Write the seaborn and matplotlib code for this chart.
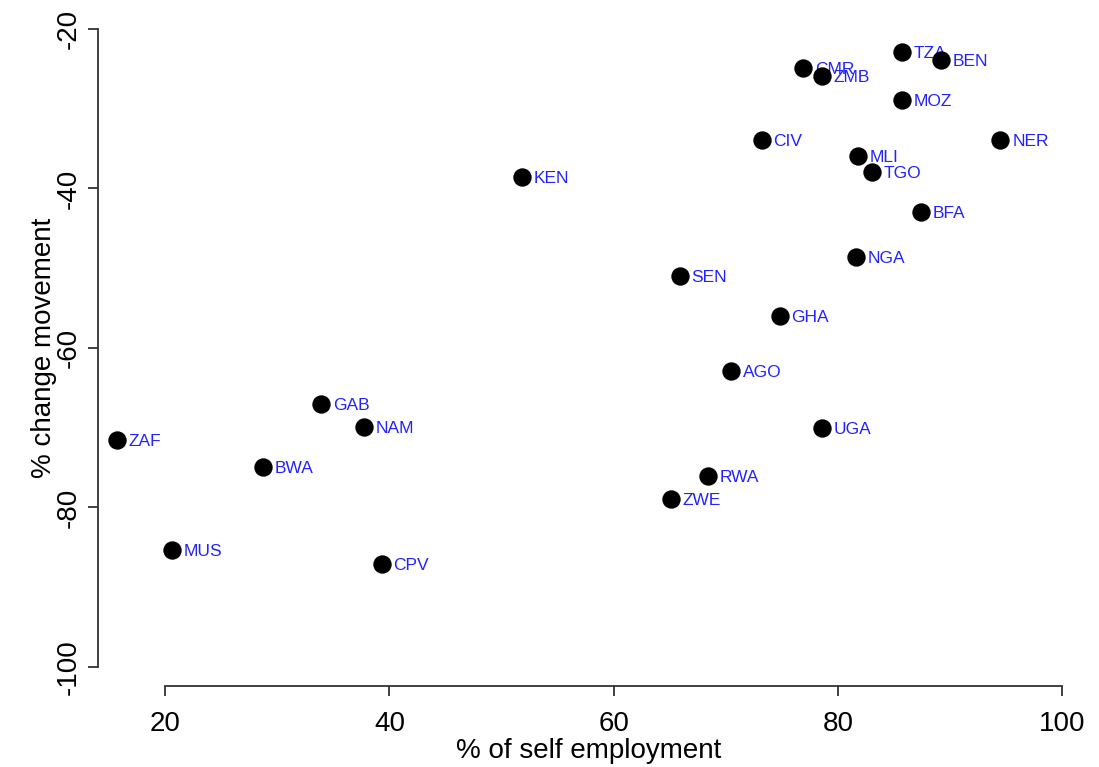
import matplotlib
matplotlib.use("Agg")
import matplotlib.pyplot as plt
import seaborn as sns
import pandas as pd

countries = ["ZAF", "MUS", "BWA", "GAB", "NAM", "CPV", "KEN", "SEN", "ZWE", "RWA",
             "AGO", "CIV", "GHA", "CMR", "ZMB", "UGA", "NGA", "MLI", "TGO", "TZA",
             "MOZ", "BFA", "BEN", "NER"]
self_employment = [15.7, 20.6, 28.7, 33.9, 37.7, 39.3, 51.8, 65.9, 65.1, 68.4,
                   70.5, 73.2, 74.8, 76.9, 78.6, 78.6, 81.6, 81.8, 83.0, 85.7,
                   85.7, 87.4, 89.2, 94.5]
change_movement = [-71.5, -85.3, -74.9, -67.0, -69.9, -87.1, -38.6, -51.0, -78.9, -76.1,
                   -62.9, -33.9, -56.0, -24.9, -25.9, -70.0, -48.6, -35.9, -37.9, -22.9,
                   -28.9, -42.9, -23.9, -33.9]
x_ticks = [20, 40, 60, 80, 100]
y_ticks = [-100, -80, -60, -40, -20]

df = pd.DataFrame({"iso": countries, "self": self_employment, "move": change_movement})

sns.set_style("white")
plt.rcParams['font.family'] = ['Liberation Sans', 'DejaVu Sans']
plt.rcParams['text.color'] = 'black'
plt.rcParams['axes.labelcolor'] = 'black'
plt.rcParams['xtick.color'] = 'black'
plt.rcParams['ytick.color'] = 'black'

fig = plt.figure(figsize=(10.99, 7.67), dpi=100)
ax = fig.add_axes([0.0892, 0.1056, 0.8925, 0.8815])

sns.scatterplot(data=df, x="self", y="move", color="black", s=175,
                edgecolor="black", linewidth=0, ax=ax, zorder=3)
for _, r in df.iterrows():
    ax.annotate(r["iso"], (r["self"], r["move"]), xytext=(8.5, -1),
                textcoords="offset points", ha="left", va="center",
                color="#2222ff", fontsize=12.5, zorder=2)

ax.set_xlim(14.0, 101.5)
ax.set_ylim(-102.4, -17.6)
ax.set_xticks(x_ticks)
ax.set_yticks(y_ticks)
ax.set_xticklabels([str(v) for v in x_ticks], fontsize=20)
ax.set_yticklabels([str(v) for v in y_ticks], fontsize=20, rotation=90, va="center")
ax.tick_params(axis="both", direction="out", length=7, width=1.3,
               left=True, bottom=True)
ax.tick_params(axis="both", which="both", color="#333333")
ax.tick_params(axis="y", pad=5)
ax.tick_params(axis="x", pad=11)

for side in ["top", "right"]:
    ax.spines[side].set_visible(False)
for side in ["left", "bottom"]:
    ax.spines[side].set_color("#333333")
    ax.spines[side].set_linewidth(1.3)
ax.spines["left"].set_bounds(-100, -20)
ax.spines["bottom"].set_bounds(20, 100)

ax.set_xlabel("% of self employment", fontsize=20, labelpad=1)
ax.set_ylabel("% change movement", fontsize=20, labelpad=-1)

fig.savefig("out.png", dpi=100)
